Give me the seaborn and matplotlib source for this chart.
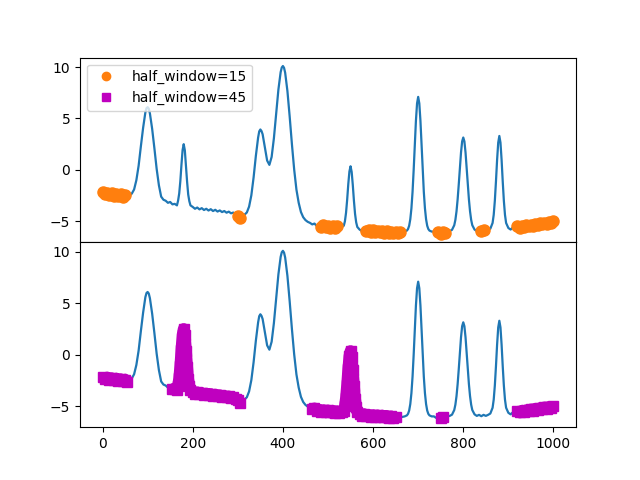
import matplotlib
matplotlib.use("Agg")
import matplotlib.lines as mlines
import matplotlib.pyplot as plt
import numpy as np
import seaborn as sns

GRID_X = list(range(0, 1001, 5))
GRID_Y = [
    -2.15, -2.35, -2.22, -2.45, -2.28, -2.50, -2.32, -2.55, -2.38, -2.60,  # 0-45
    -2.42, -2.62, -2.50, -2.30, -1.90, -1.00, 0.40, 2.30, 4.10, 5.60,      # 50-95
    6.10, 5.50, 4.00, 2.10, 0.10, -1.50, -2.60, -2.90, -3.00, -3.20,       # 100-145
    -3.12, -3.35, -3.30, -3.45, -2.30, 0.50, 2.50, 0.40, -2.40, -3.45,     # 150-195
    -3.60, -3.78, -3.66, -3.84, -3.72, -3.90, -3.78, -3.95, -3.82, -4.00,  # 200-245
    -3.88, -4.05, -3.94, -4.10, -4.00, -4.16, -4.06, -4.22, -4.15, -4.32,  # 250-295
    -4.45, -4.65, -4.45, -4.35, -4.14, -3.57, -2.47, -0.73, 1.36, 3.14,    # 300-345
    3.93, 3.47, 2.17, 0.91, 0.49, 1.26, 3.07, 5.47, 7.81, 9.51,            # 350-395
    10.10, 9.45, 7.67, 5.19, 2.49, 0.03, -1.92, -3.20, -4.10, -4.60,       # 400-445
    -4.88, -5.05, -5.15, -5.30, -5.22, -5.45, -5.35, -5.55, -5.40, -5.60,  # 450-495
    -5.42, -5.62, -5.45, -5.65, -5.50, -5.68, -5.55, -5.43, -4.17, -1.37,  # 500-545
    0.35, -1.47, -4.28, -5.55, -5.80, -5.95, -5.78, -5.98, -5.85, -6.02,   # 550-595
    -5.88, -6.05, -5.90, -6.08, -5.92, -6.10, -5.95, -6.12, -6.00, -6.15,  # 600-645
    -6.02, -6.18, -6.05, -6.05, -6.00, -5.90, -5.43, -3.74, 0.00, 4.78,    # 650-695
    7.10, 4.78, 0.00, -3.74, -5.43, -5.90, -6.00, -6.00, -6.15, -6.00,     # 700-745
    -6.20, -6.05, -6.15, -6.00, -5.95, -5.83, -5.38, -4.03, -1.40, 1.70,   # 750-795
    3.15, 1.70, -1.40, -4.03, -5.38, -5.80, -5.95, -5.85, -5.98, -5.85,    # 800-845
    -5.95, -5.85, -5.72, -5.16, -3.00, 0.97, 3.30, 0.97, -3.00, -5.16,     # 850-895
    -5.65, -5.80, -5.60, -5.70, -5.50, -5.62, -5.45, -5.57, -5.40, -5.50,  # 900-945
    -5.32, -5.45, -5.25, -5.38, -5.20, -5.30, -5.12, -5.25, -5.08, -5.18,  # 950-995
    -5.00,                                                                  # 1000
]

# extra readings around the peak tops, where the curve bends sharply
PEAK_X = [97.5, 102.5, 167.5, 172.5, 177.5, 182.5, 187.5, 192.5,
          347.5, 352.5, 397.5, 402.5,
          537.5, 542.5, 547.5, 552.5, 557.5, 562.5,
          677.5, 682.5, 687.5, 692.5, 697.5, 702.5, 707.5, 712.5, 717.5, 722.5,
          782.5, 787.5, 792.5, 797.5, 802.5, 807.5, 812.5, 817.5,
          867.5, 872.5, 877.5, 882.5, 887.5, 892.5]
PEAK_Y = [6.00, 5.95, -3.00, -1.10, 1.92, 1.90, -1.15, -3.05,
          3.75, 3.78, 9.96, 9.93,
          -5.00, -2.90, -0.15, -0.20, -3.00, -5.10,
          -5.75, -4.80, -2.14, 2.44, 6.47, 6.47, 2.44, -2.14, -4.80, -5.75,
          -4.86, -2.86, 0.22, 2.77, 2.77, 0.22, -2.86, -4.86,
          -4.37, -1.12, 2.65, 2.65, -1.12, -4.37]

# x ranges flagged as baseline for each half window
HW15_RANGES = [(0, 50), (300, 305), (485, 520), (585, 660), (745, 760),
               (840, 845), (920, 1000)]
HW45_RANGES = [(0, 55), (155, 305), (465, 650), (750, 755), (920, 1000)]

LABEL_15 = "half_window=15"
LABEL_45 = "half_window=45"

x_all = np.array(GRID_X + PEAK_X, dtype=float)
y_all = np.array(GRID_Y + PEAK_Y, dtype=float)
order = np.argsort(x_all)
x_all, y_all = x_all[order], y_all[order]


def pick(lo, hi):
    mask = (x_all >= lo) & (x_all <= hi)
    return x_all[mask], y_all[mask]


fig, (ax0, ax1) = plt.subplots(2, 1, sharex=True, figsize=(6.4, 4.8), dpi=100)
fig.subplots_adjust(hspace=0)

for ax in (ax0, ax1):
    sns.lineplot(x=x_all, y=y_all, color="C0", linewidth=1.6, errorbar=None, ax=ax)

for lo, hi in HW15_RANGES:
    xs, ys = pick(lo, hi)
    sns.lineplot(x=xs, y=ys, color="C1", linestyle="", marker="o", markersize=8,
                 mec="C1", mew=1, errorbar=None, ax=ax0)

for lo, hi in HW45_RANGES:
    xs, ys = pick(lo, hi)
    # thick line keeps the band closed on steep parts
    sns.lineplot(x=xs, y=ys, color="m", linestyle="-", linewidth=8.5,
                 marker="s", markersize=7.5, mec="m", mew=1,
                 solid_capstyle="butt", solid_joinstyle="round",
                 errorbar=None, ax=ax1)

for ax in (ax0, ax1):
    ax.set_xlim(-50, 1050)
    ax.set_ylim(-7.05, 10.92)
    ax.set_xlabel("")
    ax.set_ylabel("")
    ax.set_yticks([-5, 0, 5, 10])
    if ax.get_legend() is not None:
        ax.get_legend().remove()

handles = [
    mlines.Line2D([], [], color="C1", marker="o", linestyle="", markersize=6, label=LABEL_15),
    mlines.Line2D([], [], color="m", marker="s", linestyle="", markersize=6, label=LABEL_45),
]
ax0.legend(handles=handles, loc="upper left")

fig.savefig("out.png", dpi=100)
